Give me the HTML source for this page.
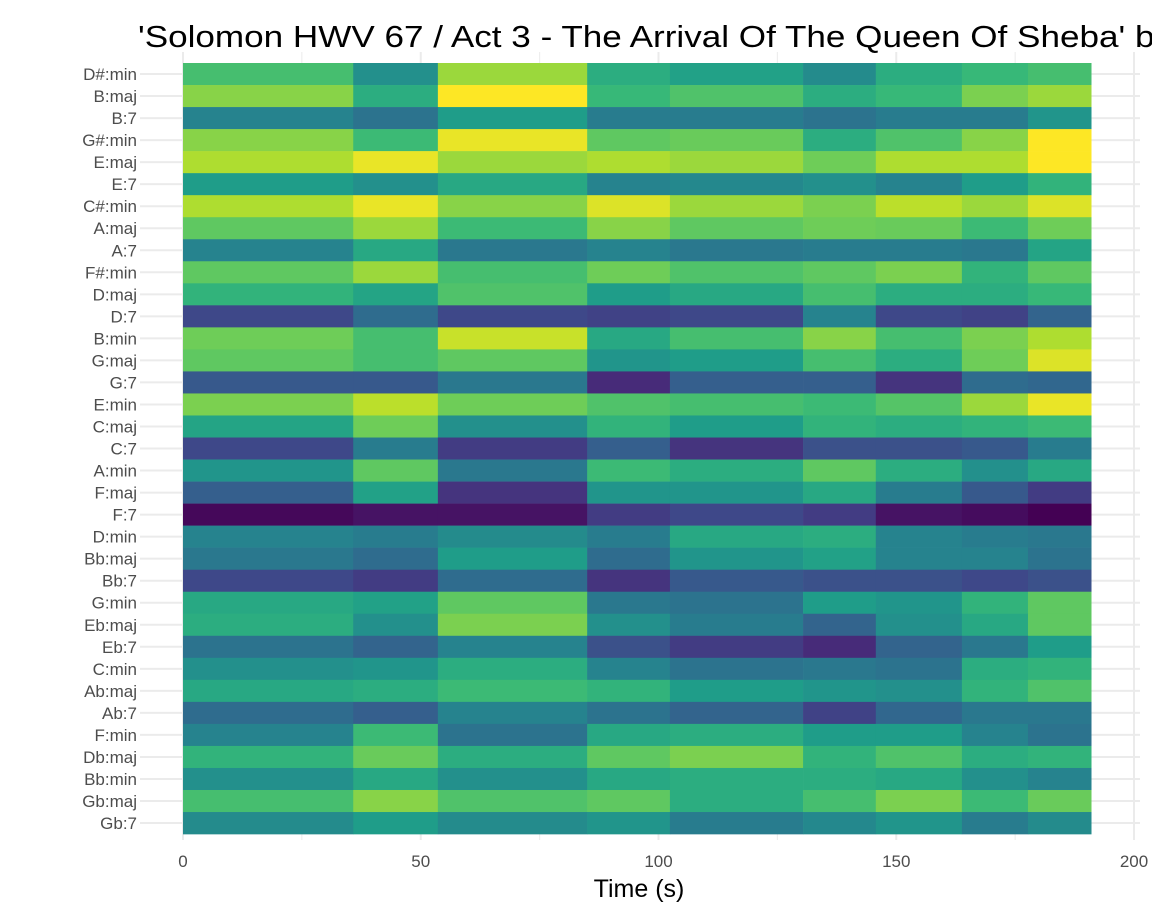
<!DOCTYPE html>
<html><head><meta charset="utf-8"><style>
body{margin:0;background:#fff;width:1152px;height:921px;overflow:hidden}
svg{display:block;font-family:"Liberation Sans",sans-serif}
</style></head><body>
<svg id="chart" width="1152" height="921" xmlns="http://www.w3.org/2000/svg">
<text x="138" y="47" font-size="31" fill="#000" textLength="1034" lengthAdjust="spacingAndGlyphs">'Solomon HWV 67 / Act 3 - The Arrival Of The Queen Of Sheba' by</text>
<g id="grid"></g><g id="tiles"></g><g id="ylabels"></g><g id="xlabels"></g>
<text x="639" y="897" font-size="25" text-anchor="middle" fill="#000">Time (s)</text>
</svg>
<script>
const chords = ["D#:min","B:maj","B:7","G#:min","E:maj","E:7","C#:min","A:maj","A:7","F#:min","D:maj","D:7","B:min","G:maj","G:7","E:min","C:maj","C:7","A:min","F:maj","F:7","D:min","Bb:maj","Bb:7","G:min","Eb:maj","Eb:7","C:min","Ab:maj","Ab:7","F:min","Db:maj","Bb:min","Gb:maj","Gb:7"];
const segEdges = [0,35.8,53.6,85.0,102.4,130.4,145.7,163.8,177.7,191.0];
const xTicks = [0,50,100,150,200];
const values = [
[0.7,0.5,0.85,0.62,0.57,0.48,0.62,0.67,0.7],
[0.82,0.62,1.0,0.67,0.72,0.62,0.67,0.8,0.85],
[0.45,0.38,0.55,0.42,0.42,0.38,0.42,0.42,0.52],
[0.82,0.68,0.97,0.75,0.77,0.62,0.72,0.82,1.0],
[0.88,0.97,0.85,0.88,0.85,0.78,0.88,0.88,1.0],
[0.55,0.5,0.6,0.45,0.47,0.5,0.45,0.55,0.65],
[0.88,0.97,0.82,0.95,0.85,0.8,0.9,0.85,0.95],
[0.75,0.85,0.68,0.82,0.75,0.78,0.77,0.68,0.78],
[0.45,0.6,0.4,0.45,0.4,0.42,0.42,0.4,0.58],
[0.75,0.85,0.7,0.78,0.72,0.75,0.8,0.65,0.75],
[0.65,0.58,0.72,0.55,0.6,0.7,0.62,0.62,0.67],
[0.22,0.35,0.22,0.2,0.22,0.45,0.22,0.2,0.32],
[0.78,0.7,0.92,0.6,0.7,0.82,0.7,0.8,0.88],
[0.75,0.7,0.75,0.52,0.55,0.7,0.62,0.78,0.95],
[0.28,0.28,0.4,0.12,0.3,0.3,0.15,0.35,0.33],
[0.8,0.9,0.78,0.72,0.7,0.68,0.73,0.85,0.97],
[0.58,0.78,0.5,0.65,0.55,0.65,0.62,0.65,0.68],
[0.22,0.42,0.18,0.3,0.15,0.25,0.25,0.28,0.42],
[0.52,0.75,0.4,0.68,0.62,0.75,0.62,0.5,0.6],
[0.3,0.57,0.15,0.52,0.52,0.6,0.42,0.28,0.18],
[0.02,0.05,0.05,0.18,0.22,0.18,0.05,0.03,0.0],
[0.45,0.42,0.48,0.42,0.6,0.62,0.45,0.42,0.4],
[0.4,0.35,0.55,0.35,0.52,0.57,0.45,0.45,0.38],
[0.22,0.18,0.35,0.15,0.28,0.25,0.25,0.22,0.25],
[0.6,0.57,0.75,0.4,0.38,0.55,0.52,0.65,0.75],
[0.62,0.5,0.8,0.5,0.42,0.32,0.5,0.6,0.75],
[0.38,0.32,0.45,0.25,0.18,0.12,0.32,0.4,0.55],
[0.5,0.52,0.62,0.45,0.38,0.4,0.38,0.62,0.65],
[0.6,0.62,0.68,0.65,0.55,0.52,0.5,0.65,0.72],
[0.35,0.3,0.45,0.38,0.32,0.2,0.33,0.4,0.4],
[0.45,0.68,0.38,0.6,0.62,0.55,0.55,0.45,0.38],
[0.65,0.77,0.62,0.75,0.8,0.65,0.72,0.62,0.65],
[0.5,0.6,0.5,0.6,0.62,0.62,0.6,0.5,0.45],
[0.7,0.82,0.72,0.75,0.62,0.7,0.8,0.68,0.77],
[0.48,0.55,0.48,0.52,0.42,0.47,0.52,0.42,0.48]
];
const NS="http://www.w3.org/2000/svg";
const x0=183, pxPerSec=4.755, yTop=63, rowH=22.03;
const xs = s => x0 + s*pxPerSec;
const yc = i => yTop + rowH*(i+0.5);
const stops=[[68,1,84],[72,40,120],[62,73,137],[49,104,142],[38,130,142],[31,158,137],[53,183,121],[109,205,89],[180,222,44],[253,231,37]];
function viridis(t){t=Math.max(0,Math.min(1,t));const p=t*(stops.length-1),i=Math.min(Math.floor(p),stops.length-2),f=p-i;const c=stops[i].map((v,k)=>Math.round(v+(stops[i+1][k]-v)*f));return `rgb(${c})`;}
function mk(tag,attrs,parent){const e=document.createElementNS(NS,tag);for(const k in attrs)e.setAttribute(k,attrs[k]);parent.appendChild(e);return e;}
const grid=document.getElementById('grid');
for(let i=0;i<chords.length;i++){
  const l=mk('line',{x1:140,x2:1140,y1:yc(i),y2:yc(i),stroke:'#ebebeb','stroke-width':2},grid);
  
  
}
for(let s=0;s<=200;s+=25){
  const l=mk('line',{x1:xs(s),x2:xs(s),y1:52,y2:840,stroke:'#ebebeb','stroke-width':s%50?1:2},grid);
  
  
}
const tiles=document.getElementById('tiles');
values.forEach((row,i)=>row.forEach((v,j)=>{
  const r=mk('rect',{x:xs(segEdges[j]),y:yTop+rowH*i,width:xs(segEdges[j+1])-xs(segEdges[j])+0.3,height:rowH+0.3,fill:viridis(v)},tiles);
  
  
}));
const yl=document.getElementById('ylabels');
chords.forEach((c,i)=>{
  const t=mk('text',{x:137,y:yc(i)+6,'font-size':17,'text-anchor':'end',fill:'#4d4d4d'},yl);
  t.textContent=c;
  
  
});
const xl=document.getElementById('xlabels');
xTicks.forEach(s=>{
  const t=mk('text',{x:xs(s),y:867,'font-size':17,'text-anchor':'middle',fill:'#4d4d4d'},xl);
  t.textContent=s;
  
  
});
</script>
</body></html>
